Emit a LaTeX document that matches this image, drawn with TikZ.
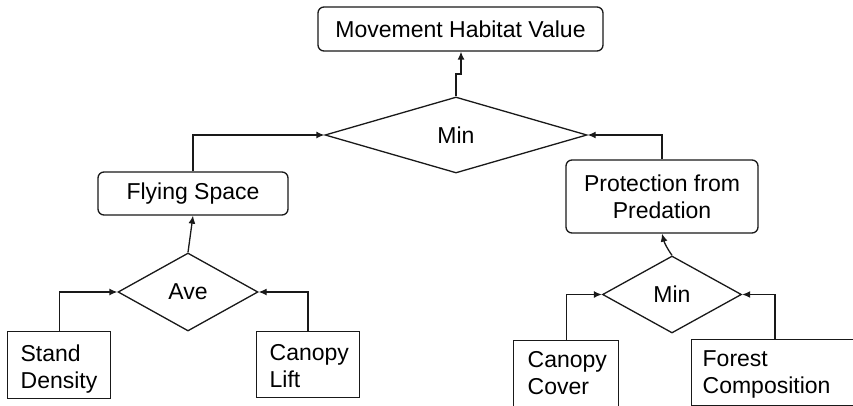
\documentclass[tikz,border=0pt]{standalone}
\usepackage{fontspec}
\setmainfont{Liberation Sans}
\usetikzlibrary{shapes.geometric,arrows.meta}
\begin{document}
\begin{tikzpicture}[x=1pt,y=-1pt,
  every node/.style={font=\fontsize{23}{27}\selectfont, inner sep=0pt, line width=1.3pt, draw=black!90},
  rbox/.style={rectangle, rounded corners=6pt, align=center},
  sbox/.style={rectangle, align=left, anchor=north west},
  ltext/.style={anchor=north west, draw=none, align=left},
  dia/.style={diamond, inner sep=0pt},
  conn/.style={line width=1.3pt, black!90, -{Latex[length=8pt,width=7pt]}}]
\useasboundingbox (0,0) rectangle (853,406);
\clip (0,0) rectangle (853,406);
\fill[white] (0,0) rectangle (853,406);
% nodes
\node[rbox, minimum width=285pt, minimum height=44pt] (mhv) at (460.5,29) {Movement Habitat Value};
\node[dia, aspect=3.45, minimum width=262pt, minimum height=76pt] (min1) at (456,135) {Min};
\node[rbox, minimum width=190pt, minimum height=43pt] (fly) at (193,193.5) {Flying Space};
\node[dia, aspect=1.79, minimum width=140pt, minimum height=78pt] (ave) at (188,292) {Ave};
\node[rbox, minimum width=192pt, minimum height=73pt] (pred) at (662,196.5) {Protection from\\Predation};
\node[dia, aspect=1.81, minimum width=139pt, minimum height=77pt] (min2) at (672,294.5) {Min};
% leaf boxes
\node[sbox, minimum width=103pt, minimum height=67pt] (sd) at (7,331) {};
\node[ltext] (sdt) at (20,344) {Stand\\Density};
\node[sbox, minimum width=103pt, minimum height=66pt] (cl) at (256,331) {};
\node[ltext] (clt) at (269,344) {Canopy\\Lift};
\node[sbox, minimum width=105pt, minimum height=66pt] (cc) at (513,340) {};
\node[ltext] (cct) at (527,351) {Canopy\\Cover};
\node[sbox, minimum width=175pt, minimum height=66pt] (fc) at (691,339) {};
\node[ltext] (fct) at (702,350) {Forest\\Composition};
% connectors
\coordinate (j1) at (456,74);
\coordinate (j2) at (461,74);
\coordinate (fcn) at (775,339);
\coordinate (cln) at (308,331);
\draw[conn] (min1.north) -- (j1) -- (j2) -- (mhv.south -| j2);
\draw[conn] (fly.north) |- (min1.west);
\draw[conn] (pred.north) |- (min1.east);
\draw[conn] (ave.north) -- (fly.south);
\draw[conn] (min2.north) to[bend left=10] (pred.south);
\draw[conn] (sd.north) |- (ave.west);
\draw[conn] (cln) |- (ave.east);
\draw[conn] (cc.north) |- (min2.west);
\draw[conn] (fcn) |- (min2.east);
\end{tikzpicture}
\end{document}
